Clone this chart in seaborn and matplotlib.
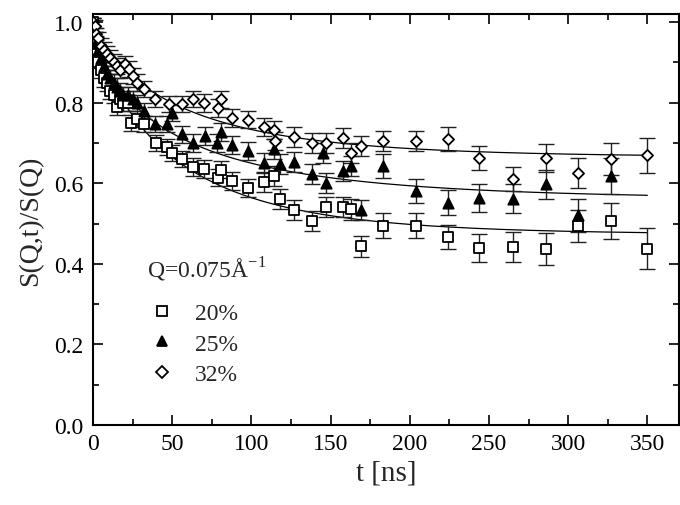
import numpy as np
import pandas as pd
import matplotlib
matplotlib.use("Agg")
import matplotlib.pyplot as plt
import seaborn as sns
from matplotlib.lines import Line2D

# ---------------- data ----------------
t20 = [0, 1, 2, 3, 5, 7, 9, 11, 13, 15, 17, 19, 22, 24, 28, 32, 40, 47, 50, 56,
       63, 70, 79, 81, 88, 98, 108, 114, 118, 127, 138, 147, 158, 163, 169, 183,
       204, 224, 244, 265, 286, 306, 327, 350]
v20 = [1.00, 0.96, 0.92, 0.90, 0.88, 0.86, 0.85, 0.83, 0.82, 0.79, 0.81, 0.80,
       0.80, 0.75, 0.76, 0.746, 0.70, 0.69, 0.674, 0.66, 0.64, 0.636, 0.614,
       0.634, 0.605, 0.589, 0.603, 0.618, 0.56, 0.533, 0.506, 0.542, 0.542,
       0.535, 0.443, 0.495, 0.495, 0.467, 0.44, 0.442, 0.436, 0.494, 0.506, 0.438]
e20 = [0.01, 0.015, 0.015, 0.015, 0.02, 0.02, 0.02, 0.02, 0.02, 0.02,
       0.02, 0.02, 0.02, 0.02, 0.02, 0.02, 0.02, 0.02, 0.02, 0.02,
       0.022, 0.022, 0.022, 0.022, 0.022, 0.022, 0.025, 0.025, 0.025, 0.025,
       0.025, 0.025, 0.025, 0.025, 0.025, 0.03, 0.03, 0.03, 0.035, 0.037,
       0.04, 0.04, 0.045, 0.052]

t25 = [0, 1, 2, 3, 5, 7, 9, 11, 13, 15, 17, 19, 22, 25, 28, 32, 39, 47, 50, 56,
       63, 71, 78, 81, 88, 98, 108, 114, 118, 127, 138, 145, 147, 158, 163, 169,
       183, 204, 224, 244, 265, 286, 306, 327]
v25 = [1.00, 0.97, 0.95, 0.93, 0.91, 0.89, 0.87, 0.86, 0.85, 0.84, 0.83, 0.82,
       0.82, 0.81, 0.80, 0.78, 0.748, 0.746, 0.775, 0.721, 0.70, 0.717, 0.70,
       0.727, 0.694, 0.68, 0.65, 0.684, 0.647, 0.652, 0.622, 0.675, 0.60, 0.63,
       0.643, 0.533, 0.643, 0.58, 0.552, 0.564, 0.562, 0.597, 0.52, 0.618]
e25 = [0.01, 0.015, 0.015, 0.015, 0.02, 0.02, 0.02, 0.02, 0.02, 0.02,
       0.02, 0.02, 0.02, 0.02, 0.02, 0.02, 0.02, 0.02, 0.02, 0.02,
       0.022, 0.022, 0.022, 0.022, 0.022, 0.022, 0.025, 0.025, 0.025, 0.025,
       0.025, 0.025, 0.025, 0.025, 0.025, 0.025, 0.03, 0.03, 0.03, 0.035,
       0.037, 0.037, 0.04, 0.045]

t32 = [0, 1, 2, 3, 5, 7, 9, 11, 13, 15, 17, 20, 23, 25, 28, 32, 39, 48, 56, 63,
       70, 79, 81, 88, 98, 108, 114, 115, 127, 138, 147, 158, 163, 169, 183, 204,
       224, 244, 265, 286, 306, 327, 350]
v32 = [1.00, 0.99, 0.97, 0.96, 0.94, 0.93, 0.92, 0.91, 0.90, 0.89, 0.88, 0.895,
       0.883, 0.866, 0.85, 0.833, 0.808, 0.796, 0.796, 0.808, 0.80, 0.787, 0.808,
       0.762, 0.758, 0.74, 0.733, 0.705, 0.714, 0.70, 0.70, 0.713, 0.674, 0.692,
       0.705, 0.705, 0.71, 0.663, 0.611, 0.663, 0.626, 0.66, 0.669]
e32 = [0.01, 0.015, 0.015, 0.015, 0.02, 0.02, 0.02, 0.02, 0.02, 0.02,
       0.02, 0.02, 0.02, 0.02, 0.02, 0.02, 0.02, 0.02, 0.02, 0.02,
       0.022, 0.022, 0.022, 0.022, 0.022, 0.022, 0.022, 0.022, 0.025, 0.025,
       0.025, 0.025, 0.025, 0.025, 0.025, 0.025, 0.03, 0.03, 0.03, 0.035,
       0.037, 0.04, 0.043]

labels = ["20%", "25%", "32%"]
# stretched-exponential fit parameters: plateau, tau [ns], beta
fit_plateau = [0.473, 0.56, 0.665]
fit_tau = [49.5, 51.0, 56.0]
fit_beta = [0.80, 0.69, 0.80]

xticks = [0, 50, 100, 150, 200, 250, 300, 350]
yticks = [0.0, 0.2, 0.4, 0.6, 0.8, 1.0]
legend_title = r"Q=0.075Å$^{\mathregular{-1}}$"

# ---------------- style ----------------
sns.set_style("ticks")
plt.rcParams["font.family"] = ["Liberation Serif", "DejaVu Serif"]
plt.rcParams["mathtext.fontset"] = "custom"
plt.rcParams["mathtext.rm"] = "Liberation Serif"

fig = plt.figure(figsize=(6.8, 5.06), dpi=100)
ax = fig.add_axes([93 / 680, 1 - 426 / 506, 586 / 680, 411 / 506])

series = [(t20, v20, e20), (t25, v25, e25), (t32, v32, e32)]
markers = ["s", "^", "D"]
faces = ["white", "black", "white"]
msizes = [45, 55, 32]

frames = []
for (t, v, e), lab in zip(series, labels):
    frames.append(pd.DataFrame({"t": t, "v": v, "e": e, "series": lab}))
df = pd.concat(frames, ignore_index=True)

# fit curves
tgrid = np.linspace(0, 350, 400)
fit_frames = []
for lab, A, tau, b in zip(labels, fit_plateau, fit_tau, fit_beta):
    y = A + (1 - A) * np.exp(-(tgrid / tau) ** b)
    fit_frames.append(pd.DataFrame({"t": tgrid, "v": y, "series": lab}))
fit_df = pd.concat(fit_frames, ignore_index=True)
sns.lineplot(data=fit_df, x="t", y="v", units="series", estimator=None,
             color="black", linewidth=0.9, ax=ax, legend=False, zorder=2)

for lab, m, fc, ms in zip(labels, markers, faces, msizes):
    sub = df[df["series"] == lab]
    ax.errorbar(sub["t"], sub["v"], yerr=sub["e"], fmt="none", ecolor="#222222",
                elinewidth=1.0, capsize=6, capthick=1.0, zorder=3)
    sns.scatterplot(data=sub, x="t", y="v", marker=m, s=ms, facecolor=fc,
                    edgecolor="black", linewidth=1.3, ax=ax, zorder=4, legend=False)

ax.set_xlim(0, 370)
ax.set_ylim(0, 1.02)
ax.set_xticks(xticks)
ax.set_yticks(yticks)
ax.set_xticklabels([str(x) for x in xticks])
ax.set_yticklabels([f"{y:.1f}" for y in yticks])
ax.set_xticks(np.arange(25, 370, 50), minor=True)
ax.set_yticks([0.1, 0.3, 0.5, 0.7, 0.9], minor=True)
ax.tick_params(which="both", direction="in", top=True, right=True,
               width=1.2, colors="black", labelsize=17)
ax.tick_params(which="major", length=7)
ax.tick_params(which="minor", length=4)
ax.tick_params(axis="y", pad=7)
ax.tick_params(axis="x", pad=6)
for sp in ax.spines.values():
    sp.set_linewidth(1.5)
    sp.set_color("black")

ax.set_xlabel("t [ns]", fontsize=21, labelpad=4)
ax.set_ylabel("S(Q,t)/S(Q)", fontsize=20, labelpad=8)

ax.text(0.092, 0.380, legend_title, transform=ax.transAxes, fontsize=17,
        ha="left", va="center")
handles = [Line2D([], [], marker=m, linestyle="none", markerfacecolor=fc,
                  markeredgecolor="black", markeredgewidth=1.3,
                  markersize=ms ** 0.5)
           for m, fc, ms in zip(markers, faces, msizes)]
leg = ax.legend(handles, labels, loc="upper left",
                bbox_to_anchor=(0.10, 0.298), frameon=False, fontsize=17,
                handlelength=0.9, handletextpad=0.95,
                labelspacing=0.38, borderpad=0, borderaxespad=0)

fig.savefig("out.png", dpi=100)
